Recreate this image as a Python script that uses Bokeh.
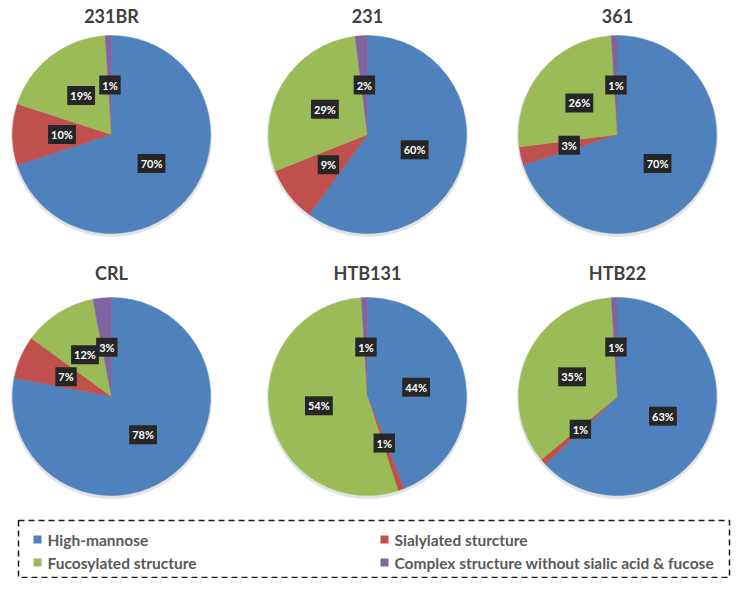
import math
from bokeh.plotting import figure
from bokeh.models import ColumnDataSource, Range1d
from bokeh.core.properties import value
from bokeh.embed import file_html
from bokeh.resources import INLINE

# ---------------- data ----------------
samples = ["231BR", "231", "361", "CRL", "HTB131", "HTB22"]
categories = ["High-mannose", "Sialylated sturcture", "Fucosylated structure",
              "Complex structure without sialic acid & fucose"]
high_mannose = [70, 60, 70, 78, 44, 63]
sialylated = [10, 9, 3, 7, 1, 1]
fucosylated = [19, 29, 26, 12, 54, 35]
complex_struct = [1, 2, 1, 3, 1, 1]

colors = ["#4F81BD", "#C0504D", "#9BBB59", "#8064A2"]

# ---------------- layout (screen pixel coords, y measured from top) ----------------
W, H = 731, 578
def Y(img_y):
    return H - img_y

cx = [111, 367, 617, 111, 367, 617]
cy = [Y(134), Y(134), Y(134), Y(396), Y(396), Y(396)]
title_y = [Y(15), Y(15), Y(15), Y(272), Y(272), Y(272)]
R = 99
FONT = "Lato"

p = figure(width=W, height=H, x_range=Range1d(0, W), y_range=Range1d(0, H),
           output_backend="svg", toolbar_location=None, min_border=0,
           x_axis_location=None, y_axis_location=None)
p.grid.visible = False
p.outline_line_color = None
p.background_fill_color = "white"
p.border_fill_color = "white"

series = [high_mannose, sialylated, fucosylated, complex_struct]

wx, wy, ws, we, wc = [], [], [], [], []
lx, ly, lt = [], [], []
for i in range(len(samples)):
    vals = [s[i] for s in series]
    tot = float(sum(vals))
    cum = 0.0
    for k, v in enumerate(vals):
        f0 = cum / tot
        cum += v
        f1 = cum / tot
        a0 = math.pi / 2 - 2 * math.pi * f0
        a1 = math.pi / 2 - 2 * math.pi * f1
        wx.append(cx[i]); wy.append(cy[i]); ws.append(a0); we.append(a1); wc.append(colors[k])
        am = (a0 + a1) / 2
        lx.append(cx[i] + 0.5 * R * math.cos(am))
        ly.append(cy[i] + 0.5 * R * math.sin(am))
        lt.append(f"{v}%")

# soft shadow under pies
p.circle(x=cx, y=[c - 2 for c in cy], radius=R + 1.5, fill_color="#d0d0d0",
         fill_alpha=0.6, line_color=None)

wsrc = ColumnDataSource(dict(x=wx, y=wy, s=ws, e=we, c=wc))
p.wedge(x="x", y="y", radius=R, start_angle="s", end_angle="e", direction="clock",
        fill_color="c", line_color="c", line_width=0.5, source=wsrc)

# data labels
lsrc = ColumnDataSource(dict(x=lx, y=ly, t=lt))
p.text(x="x", y="y", text="t", source=lsrc, text_font=value(FONT), text_font_style="bold",
       text_font_size="11px", text_color="white", text_align="center", text_baseline="middle",
       background_fill_color="#262626", padding=3)

# titles
tsrc = ColumnDataSource(dict(x=cx, y=title_y, t=samples))
p.text(x="x", y="y", text="t", source=tsrc, text_font=value(FONT), text_font_style="bold",
       text_font_size="18px", text_color="#404040", text_align="center",
       text_baseline="middle")

# legend box
box_l, box_r, box_t, box_b = 18, 729, 520, 577
p.rect(x=(box_l + box_r) / 2, y=Y((box_t + box_b) / 2), width=box_r - box_l,
       height=box_b - box_t, fill_color=None,
       line_color="#1a1a1a", line_width=1.5, line_dash="6 4")

leg_mx = [37, 384, 37, 384]
leg_y = [Y(539), Y(539), Y(562), Y(562)]
p.rect(x=leg_mx, y=leg_y, width=8, height=8, fill_color=colors, line_color=None)
p.text(x=[m + 10 for m in leg_mx], y=leg_y, text=categories, text_font=value(FONT),
       text_font_style="bold", text_font_size="15.5px", text_color="#595959",
       text_align="left", text_baseline="middle")

open("out.html", "w").write(file_html(p, INLINE))
